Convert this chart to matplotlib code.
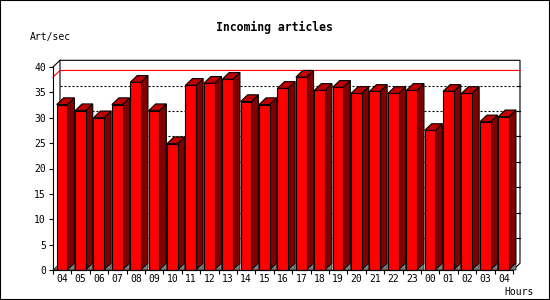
import matplotlib
matplotlib.use('Agg')
import matplotlib.pyplot as plt
from matplotlib.patches import Polygon, Rectangle

hours = ['04', '05', '06', '07', '08', '09', '10', '11', '12', '13', '14', '15',
         '16', '17', '18', '19', '20', '21', '22', '23', '00', '01', '02', '03', '04']
articles = [32.6, 31.4, 30.0, 32.6, 37.0, 31.4, 24.9, 36.4, 36.8, 37.6, 33.2, 32.6,
            35.8, 38.0, 35.4, 36.0, 34.8, 35.2, 34.8, 35.4, 27.5, 35.2, 34.8, 29.2, 30.2]
y_ticks = [0, 5, 10, 15, 20, 25, 30, 35, 40]

plt.rcParams['font.family'] = 'DejaVu Sans Mono'

n = len(hours)
DX, DY = 0.38, 1.32      # depth of the 3d effect, in data units
W, OFF = 0.58, -0.3      # bar front width and offset from centre
LW = 0.8

fig = plt.figure(figsize=(5.5, 3), dpi=100)
ax = fig.add_axes([53 / 550, 30 / 300, 460 / 550, 203 / 300])
ax.set_xlim(-0.5, n - 0.5)
ax.set_ylim(0, 40)

xb0, xb1 = -0.5 + DX, n - 0.5 + DX

# back plane
ax.plot([xb0, xb0, xb1, xb1, n - 0.5], [DY, 40 + DY, 40 + DY, DY, 0],
        color='black', lw=LW, clip_on=False, zorder=1)
ax.plot([-0.5, xb0], [40, 40 + DY], color='black', lw=LW, clip_on=False, zorder=1)

# dotted grid on the back wall
for v in y_ticks[1:-1]:
    ax.plot([xb0, xb1], [v + DY, v + DY], color='black', lw=LW,
            linestyle=(0, (1.8, 1.8)), clip_on=False, zorder=1)
    ax.plot([xb1 - 0.17, xb1], [v + DY, v + DY], color='black', lw=LW,
            clip_on=False, zorder=1)

# max line
top = max(articles)
ax.plot([-0.5, xb0, xb1], [top, top + DY, top + DY], color='red', lw=LW,
        clip_on=False, zorder=2)

# floor under the left wall
ax.add_patch(Polygon([(-0.5, 0), (xb0, DY), (xb0, 0)], closed=True,
                     facecolor='#808080', edgecolor='black', lw=0.5, zorder=3, clip_on=False))

# bars
for i, v in enumerate(articles):
    x0 = i + OFF
    x1 = x0 + W
    ax.add_patch(Polygon([(x1, 0), (x1, v), (x1 + DX, v + DY), (x1 + DX, DY)], closed=True,
                         facecolor='#800000', edgecolor='black', lw=LW, zorder=3, clip_on=False))
    ax.add_patch(Polygon([(x1, 0), (x1 + DX, DY), (x1 + DX, 0)], closed=True,
                         facecolor='#808080', edgecolor='black', lw=0.5, zorder=3, clip_on=False))
    ax.add_patch(Rectangle((x0, 0), W, v, facecolor='#ff0000', edgecolor='black',
                           lw=LW, zorder=4, clip_on=False))
    ax.add_patch(Polygon([(x0, v), (x1, v), (x1 + DX, v + DY), (x0 + DX, v + DY)], closed=True,
                         facecolor='#c00000', edgecolor='black', lw=LW, zorder=4, clip_on=False))

# axes
for s in ['top', 'right']:
    ax.spines[s].set_visible(False)
for s in ['left', 'bottom']:
    ax.spines[s].set_linewidth(LW)
    ax.spines[s].set_zorder(5)
ax.set_yticks(y_ticks)
ax.tick_params(axis='y', direction='out', length=3, width=LW, labelsize=7, pad=2)
ax.set_xticks([i - 0.5 for i in range(n + 1)])
ax.set_xticklabels([])
ax.tick_params(axis='x', which='major', direction='out', length=3, width=LW)
ax.set_xticks(range(n), minor=True)
ax.set_xticklabels(hours, minor=True)
ax.tick_params(axis='x', which='minor', length=0, labelsize=7, pad=3)

fig.text(274 / 550, 1 - 27 / 300, 'Incoming articles', ha='center', va='center',
         fontsize=8.3, fontweight='bold')
fig.text(30 / 550, 1 - 37 / 300, 'Art/sec', ha='left', va='center', fontsize=7)
fig.text(534 / 550, 1 - 292 / 300, 'Hours', ha='right', va='center', fontsize=7)

fig.add_artist(Rectangle((0, 0), 1, 1, transform=fig.transFigure, fill=False,
                         edgecolor='black', lw=1.5))

plt.savefig('out.png', dpi=100)
